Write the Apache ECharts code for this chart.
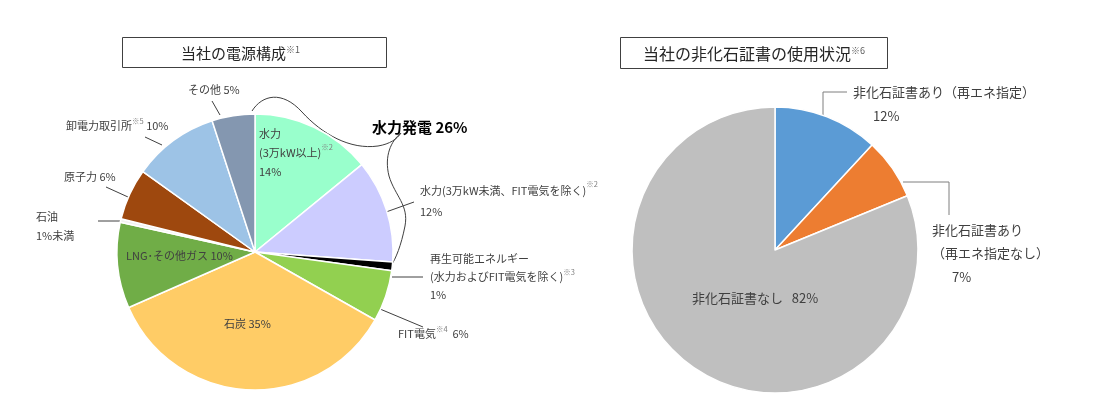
<!DOCTYPE html>
<html>
<head>
<meta charset="utf-8">
<script src="https://cdn.jsdelivr.net/npm/echarts@6/dist/echarts.min.js"></script>
<style>
  html, body { margin: 0; background: #fff; }
  #main { width: 1097px; height: 404px; }
</style>
</head>
<body>
<div id="main"></div>
<script>
// 当社の電源構成（左の円グラフ）
const mixNames = ['水力(3万kW以上)', '水力(3万kW未満、FIT電気を除く)', '再生可能エネルギー(水力およびFIT電気を除く)', 'FIT電気', '石炭', 'LNG･その他ガス', '石油', '原子力', '卸電力取引所', 'その他']
const mixValues = [14, 12, 1, 6, 35, 10, 0.4, 6, 10, 5]
const mixValueText = ['14%', '12%', '1%', '6%', '35%', '10%', '1%未満', '6%', '10%', '5%']
const mixColors = ['#99FFCC', '#CCCCFF', '#000000', '#92D050', '#FFCC66', '#70AD47', '#F2F2F2', '#9E480E', '#9DC3E6', '#8497B0']
const mixLabelText = [
  `水力\n(3万kW以上){s|※2}\n${mixValueText[0]}`,
  `水力(3万kW未満、FIT電気を除く){s|※2}\n${mixValueText[1]}`,
  `再生可能エネルギー\n(水力およびFIT電気を除く){s|※3}\n${mixValueText[2]}`,
  `FIT電気{s|※4}  ${mixValueText[3]}`,
  `石炭 ${mixValueText[4]}`,
  `LNG･その他ガス ${mixValueText[5]}`,
  `石油\n${mixValueText[6]}`,
  `原子力 ${mixValueText[7]}`,
  `卸電力取引所{s|※5} ${mixValueText[8]}`,
  `その他 ${mixValueText[9]}`
]
const hydroTotal = '水力発電 26%'

// 当社の非化石証書の使用状況（右の円グラフ）
const certNames = ['非化石証書あり（再エネ指定）', '非化石証書あり（再エネ指定なし）', '非化石証書なし']
const certValues = [12, 7, 82]
const certValueText = ['12%', '7%', '82%']
const certColors = ['#5B9BD5', '#ED7D31', '#BFBFBF']
const certLabelText = [
  `非化石証書あり（再エネ指定）\n{i|${certValueText[0]}}`,
  `非化石証書あり\n（再エネ指定なし）\n{i|${certValueText[1]}}`,
  `非化石証書なし   ${certValueText[2]}`
]

const FONT = '"Noto Sans CJK JP", "Noto Sans", sans-serif'
const TXT = '#404040'

// ラベルの置き場所 [x, y(上端), 行の高さ, 引出線, 位置]
const mixLabelPos = [
  [259, 124, 19, null, 'inside'],
  [420, 180, 21, [[386, 212], [414, 202]]],
  [430, 250, 18, [[392, 277], [423, 277]]],
  [398, 325, 18, [[380, 309], [423, 327]]],
  [224, 315, 18, null, 'inside'],
  [126, 247, 18, null, 'inside'],
  [36, 207, 19, [[122, 221], [98, 221]]],
  [64, 168, 18, [[128, 197], [106, 187]]],
  [66, 117, 18, [[162, 145], [145, 137]]],
  [188, 81, 18, [[220, 115], [212, 101]]]
]
const certLabelPos = [
  [853, 80, 24, [[823, 127], [823, 92], [847, 92]]],
  [932, 218, 23.5, [[903, 182], [949, 182], [949, 215]]],
  [692, 288, 20, null, 'inside']
]

// 水力発電のかっこ（ベジェ曲線の区間）
const braceSegs = [
  [252, 111, 262, 95, 282, 90, 302, 112],
  [302, 112, 322, 134, 350, 150, 378, 146],
  [378, 146, 390, 144, 397, 139, 401, 133],
  [401, 133, 391, 141, 384, 156, 389, 176],
  [389, 176, 395, 196, 409, 205, 405, 226],
  [405, 226, 401, 246, 396, 258, 391, 266]
]

const supStyle = { fontSize: 7.5, lineHeight: 6, verticalAlign: 'top', color: '#7F7F7F', fontFamily: FONT }

function makeData(names, values, colors, texts, pos, size) {
  return names.map((n, i) => ({
    name: n,
    value: values[i],
    itemStyle: { color: colors[i] },
    label: {
      formatter: texts[i],
      position: pos[i][4] || 'outside',
      lineHeight: pos[i][2],
      fontSize: size
    },
    labelLine: { show: !!pos[i][3] }
  }))
}

function layoutFor(pos) {
  return p => {
    const q = pos[p.dataIndex]
    const out = { x: q[0], y: q[1], align: 'left', verticalAlign: 'top' }
    if (q[3]) {
      const pts = q[3].slice()
      while (pts.length < 3) pts.push(pts[pts.length - 1])
      out.labelLinePoints = pts
    }
    return out
  }
}

var myChart = echarts.init(document.getElementById('main'))

var option = {
  animation: false,
  backgroundColor: '#fff',
  graphic: [
    { type: 'rect', shape: { x: 122.5, y: 37.5, width: 264, height: 30 }, style: { fill: 'none', stroke: '#404040', lineWidth: 1 } },
    { type: 'text', x: 181, y: 53, style: { text: '当社の電源構成{s|※1}', fontSize: 15, fontFamily: FONT, fill: '#262626', verticalAlign: 'middle', rich: { s: { fontSize: 9, lineHeight: 8, verticalAlign: 'top', fill: '#595959', fontFamily: FONT } } } },
    { type: 'rect', shape: { x: 620.5, y: 37.5, width: 267, height: 31 }, style: { fill: 'none', stroke: '#404040', lineWidth: 1 } },
    { type: 'text', x: 643, y: 54, style: { text: '当社の非化石証書の使用状況{s|※6}', fontSize: 16, fontFamily: FONT, fill: '#262626', verticalAlign: 'middle', rich: { s: { fontSize: 9, lineHeight: 8, verticalAlign: 'top', fill: '#595959', fontFamily: FONT } } } },
    ...braceSegs.map(s => ({
      type: 'bezierCurve',
      shape: { x1: s[0], y1: s[1], cpx1: s[2], cpy1: s[3], cpx2: s[4], cpy2: s[5], x2: s[6], y2: s[7] },
      style: { fill: 'none', stroke: '#404040', lineWidth: 1 }
    })),
    { type: 'text', x: 372, y: 127, style: { text: hydroTotal, fontSize: 15, fontWeight: 'bold', fontFamily: FONT, fill: '#000', verticalAlign: 'middle' } }
  ],
  series: [
    {
      type: 'pie',
      center: [255, 252],
      radius: 138,
      startAngle: 90,
      clockwise: true,
      avoidLabelOverlap: false,
      silent: true,
      itemStyle: { borderColor: '#fff', borderWidth: 1.5 },
      label: { color: TXT, fontFamily: FONT, fontSize: 11, rich: { s: supStyle } },
      labelLine: { lineStyle: { color: TXT, width: 1 } },
      labelLayout: layoutFor(mixLabelPos),
      data: makeData(mixNames, mixValues, mixColors, mixLabelText, mixLabelPos, 11)
    },
    {
      type: 'pie',
      center: [775, 250],
      radius: 143,
      startAngle: 90,
      clockwise: true,
      avoidLabelOverlap: false,
      silent: true,
      itemStyle: { borderColor: '#fff', borderWidth: 1.5 },
      label: { color: TXT, fontFamily: FONT, fontSize: 13, rich: { i: { padding: [0, 0, 0, 20], fontSize: 13, fontFamily: FONT, color: TXT } } },
      labelLine: { lineStyle: { color: '#7F7F7F', width: 1 } },
      labelLayout: layoutFor(certLabelPos),
      data: makeData(certNames, certValues, certColors, certLabelText, certLabelPos, 13)
    }
  ]
}

option && myChart.setOption(option)
</script>
</body>
</html>
